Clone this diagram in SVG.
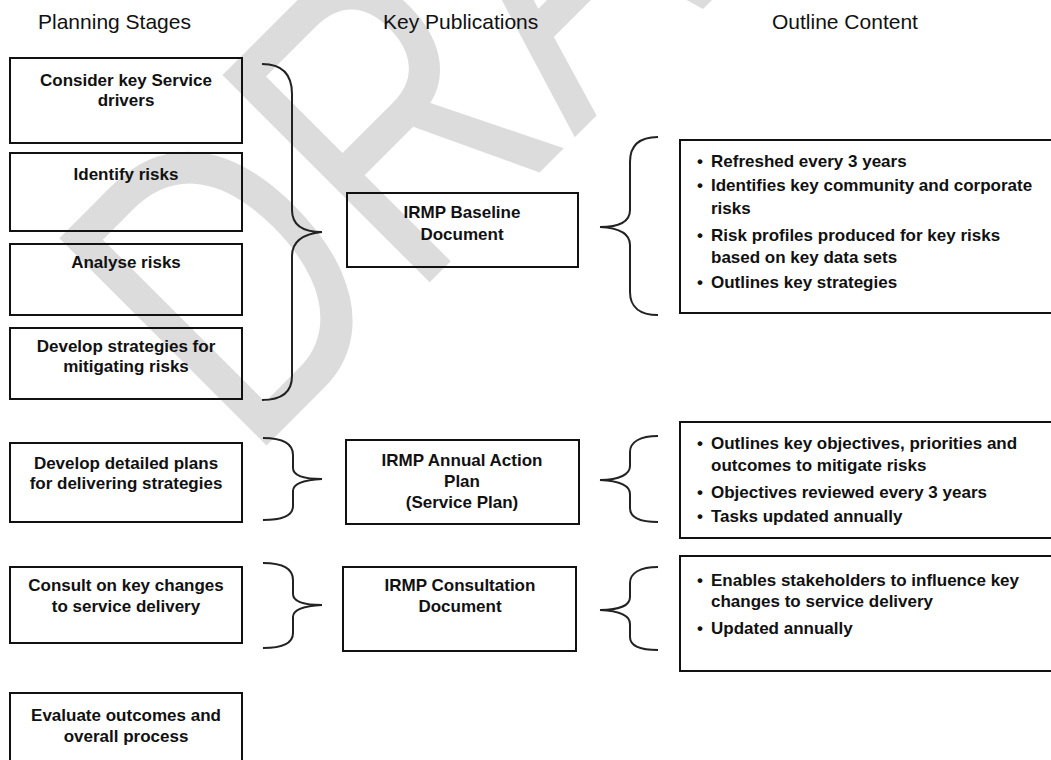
<svg xmlns="http://www.w3.org/2000/svg" width="1051" height="760" viewBox="0 0 1051 760">
<style>
.bx{fill:none;stroke:#111;stroke-width:2}
.br{fill:none;stroke:#222;stroke-width:2}
.hd{font-family:"Liberation Sans",Arial,sans-serif;font-size:21px;fill:#111}
.t{font-family:"Liberation Sans",Arial,sans-serif;font-size:17px;font-weight:bold;fill:#111;text-anchor:middle}
.l{font-family:"Liberation Sans",Arial,sans-serif;font-size:17px;font-weight:bold;fill:#111}
.wm{font-family:"Liberation Sans",Arial,sans-serif;font-size:426px;fill:#dcdcdc}
</style>
<rect width="1051" height="760" fill="#fff"/>
<text class="wm" x="0" y="0" transform="translate(248 464) rotate(-45) scale(0.75 1)">DRAFT</text>

<g id="headers">
<text class="hd" x="38" y="29">Planning Stages</text>
<text class="hd" x="383" y="29">Key Publications</text>
<text class="hd" x="772" y="29">Outline Content</text>
</g>

<g id="stage1"><rect class="bx" x="10" y="58" width="232" height="85"/>
<text class="t" x="126" y="86">Consider key Service</text><text class="t" x="126" y="106">drivers</text></g>
<g id="stage2"><rect class="bx" x="10" y="153" width="232" height="78"/>
<text class="t" x="126" y="180">Identify risks</text></g>
<g id="stage3"><rect class="bx" x="10" y="244" width="232" height="71"/>
<text class="t" x="126" y="268">Analyse risks</text></g>
<g id="stage4"><rect class="bx" x="10" y="328" width="232" height="71"/>
<text class="t" x="126" y="352">Develop strategies for</text><text class="t" x="126" y="372">mitigating risks</text></g>
<g id="stage5"><rect class="bx" x="10" y="443" width="232" height="79"/>
<text class="t" x="126" y="469">Develop detailed plans</text><text class="t" x="126" y="489">for delivering strategies</text></g>
<g id="stage6"><rect class="bx" x="10" y="567" width="232" height="76"/>
<text class="t" x="126" y="591">Consult on key changes</text><text class="t" x="126" y="612">to service delivery</text></g>
<g id="stage7"><rect class="bx" x="10" y="693" width="232" height="80"/>
<text class="t" x="126" y="721">Evaluate outcomes and</text><text class="t" x="126" y="742">overall process</text></g>

<g id="pub1"><rect class="bx" x="347" y="193" width="231" height="74"/>
<text class="t" x="462" y="218">IRMP Baseline</text><text class="t" x="462" y="240">Document</text></g>
<g id="pub2"><rect class="bx" x="346" y="440" width="233" height="84"/>
<text class="t" x="462" y="466">IRMP Annual Action</text><text class="t" x="462" y="487">Plan</text><text class="t" x="462" y="508">(Service Plan)</text></g>
<g id="pub3"><rect class="bx" x="343" y="567" width="233" height="84"/>
<text class="t" x="460" y="591">IRMP Consultation</text><text class="t" x="460" y="612">Document</text></g>

<g id="content1"><rect class="bx" x="680" y="140" width="380" height="173"/>
<text class="l" x="697" y="167">•</text><text class="l" x="711" y="167">Refreshed every 3 years</text>
<text class="l" x="697" y="191">•</text><text class="l" x="711" y="191">Identifies key community and corporate</text>
<text class="l" x="711" y="214">risks</text>
<text class="l" x="697" y="241">•</text><text class="l" x="711" y="241">Risk profiles produced for key risks</text>
<text class="l" x="711" y="263">based on key data sets</text>
<text class="l" x="697" y="288">•</text><text class="l" x="711" y="288">Outlines key strategies</text></g>
<g id="content2"><rect class="bx" x="680" y="422" width="380" height="116"/>
<text class="l" x="697" y="449">•</text><text class="l" x="711" y="449">Outlines key objectives, priorities and</text>
<text class="l" x="711" y="471">outcomes to mitigate risks</text>
<text class="l" x="697" y="498">•</text><text class="l" x="711" y="498">Objectives reviewed every 3 years</text>
<text class="l" x="697" y="522">•</text><text class="l" x="711" y="522">Tasks updated annually</text></g>
<g id="content3"><rect class="bx" x="680" y="556" width="380" height="115"/>
<text class="l" x="697" y="586">•</text><text class="l" x="711" y="586">Enables stakeholders to influence key</text>
<text class="l" x="711" y="607">changes to service delivery</text>
<text class="l" x="697" y="634">•</text><text class="l" x="711" y="634">Updated annually</text></g>

<g id="connectors">
<path class="br" d="M262,64 C282,64 292,74 292,94 L292,210 C292,224 302,232 322,232 C302,234 292,242 292,256 L292,376 C292,392 282,400 262,400"/>
<path class="br" d="M263,438 C283,438 293,443 293,455 L293,468 C293,475 303,479 322,479 C303,480 293,484 293,491 L293,506 C293,516 283,520 263,520"/>
<path class="br" d="M263,563 C283,563 293,568 293,580 L293,594 C293,601 303,605 322,605 C303,606 293,610 293,617 L293,633 C293,643 283,648 263,648"/>
<path class="br" d="M658,137 C640,137 630,145 630,162 L630,210 C630,221 620,227 600,227 C620,228 630,234 630,245 L630,292 C630,307 640,315 658,315"/>
<path class="br" d="M658,436 C640,436 630,442 630,452 L630,466 C630,474 620,480 600,480 C620,481 630,486 630,494 L630,508 C630,517 640,522 658,522"/>
<path class="br" d="M658,567 C640,567 630,573 630,583 L630,597 C630,605 620,610 600,610 C620,611 630,616 630,624 L630,637 C630,646 640,650 658,650"/>
</g>
</svg>
